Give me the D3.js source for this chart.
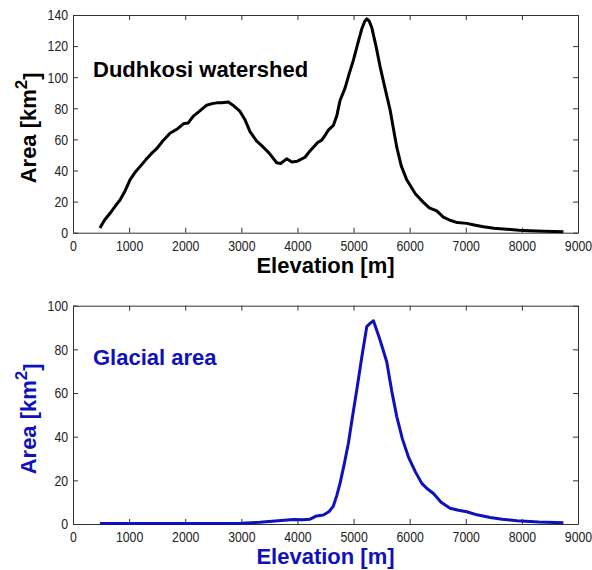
<!DOCTYPE html>
<html>
<head>
<meta charset="utf-8">
<script src="https://cdn.jsdelivr.net/npm/d3@7"></script>
<style>
  body { margin: 0; background: #fff; }
  svg { display: block; font-family: Arial, "Liberation Sans", sans-serif; }
  .tick text { font-size: 15px; fill: #222; }
  .tick line { stroke: #333; }
  .domain { stroke: #333; }
</style>
</head>
<body>
<svg id="chart" width="592" height="570"></svg>
<script>
// Whole watershed hypsometry (elevation m, area km2)
var watershedElev = [480, 560, 660, 750, 838, 930, 1016, 1100, 1194, 1300, 1400, 1491, 1600, 1729, 1850, 1967, 2050, 2145, 2250, 2383, 2480, 2561, 2650, 2769, 2850, 2977, 3060, 3155, 3270, 3392, 3500, 3630, 3700, 3808, 3900, 4000, 4135, 4210, 4284, 4360, 4433, 4500, 4551, 4640, 4700, 4759, 4848, 4920, 4997, 5070, 5146, 5200, 5235, 5280, 5324, 5400, 5472, 5560, 5651, 5710, 5770, 5850, 5948, 6100, 6245, 6350, 6483, 6600, 6720, 6850, 7018, 7150, 7315, 7500, 7731, 7950, 8146, 8400, 8740];
var watershedArea = [3, 8, 12.5, 17, 21, 27, 34, 38.5, 42.5, 47, 51, 54, 59, 64, 66.5, 70, 70.5, 75, 78, 82, 83, 83.5, 83.5, 84, 82, 78, 73, 65, 59, 55, 51, 45, 44.5, 47.5, 45.5, 46, 48.5, 52, 55, 58, 59.5, 63, 66, 69, 75, 85, 93, 102, 111, 121, 131, 136, 137.5, 136, 132, 120, 107, 93, 79, 67, 55, 43, 34, 25, 19.5, 16, 14, 10, 8, 6.5, 6, 5, 3.8, 2.8, 2.2, 1.6, 1.3, 0.9, 0.6];

// Glacier-covered area
var glacierElev = [480, 1000, 1500, 2000, 2500, 3000, 3333, 3600, 3927, 4100, 4224, 4343, 4462, 4560, 4640, 4700, 4759, 4830, 4908, 4980, 5057, 5150, 5235, 5300, 5354, 5410, 5472, 5591, 5680, 5770, 5870, 5977, 6100, 6216, 6320, 6424, 6560, 6720, 6870, 7018, 7200, 7434, 7650, 7909, 8300, 8740];
var glacierArea = [0.2, 0.2, 0.2, 0.2, 0.2, 0.3, 0.8, 1.4, 2.1, 1.9, 2.2, 3.7, 4.1, 5.6, 8.2, 13, 18.6, 27, 37, 49, 61.4, 77, 90.4, 92, 93.1, 89, 84.3, 74.3, 61, 49.2, 39, 30.8, 24, 18.6, 16, 14, 10, 7.2, 6.3, 5.6, 4.2, 3, 2.2, 1.5, 0.9, 0.6];

var xTicks = [0, 1000, 2000, 3000, 4000, 5000, 6000, 7000, 8000, 9000];
var topYTicks = [0, 20, 40, 60, 80, 100, 120, 140];
var bottomYTicks = [0, 20, 40, 60, 80, 100];

var svg = d3.select("#chart");
var left = 73, right = 578;

function drawPanel(opts) {
    var x = d3.scaleLinear().domain([0, 9000]).range([left, right]);
    var y = d3.scaleLinear().domain([0, opts.yMax]).range([opts.bottom, opts.top]);
    var g = svg.append("g");

    // bottom and left axes with labels, ticks pointing inward
    g.append("g")
        .attr("transform", "translate(0," + opts.bottom + ")")
        .call(d3.axisBottom(x).tickValues(xTicks).tickFormat(d3.format("d")).tickSizeInner(-5).tickSizeOuter(0).tickPadding(4))
        .call(a => a.selectAll(".tick text").attr("dy", "0.95em").attr("transform", "scale(0.82,1)"));
    g.append("g")
        .attr("transform", "translate(" + left + ",0)")
        .call(d3.axisLeft(y).tickValues(opts.yTicks).tickSizeInner(-5).tickSizeOuter(0).tickPadding(6))
        .call(a => a.selectAll(".tick text").attr("transform", "scale(0.82,1)"));
    // top and right box edges with ticks, no labels
    g.append("g")
        .attr("transform", "translate(0," + opts.top + ")")
        .call(d3.axisTop(x).tickValues(xTicks).tickSizeInner(-5).tickSizeOuter(0).tickFormat(""));
    g.append("g")
        .attr("transform", "translate(" + right + ",0)")
        .call(d3.axisRight(y).tickValues(opts.yTicks).tickSizeInner(-5).tickSizeOuter(0).tickFormat(""));

    var pts = opts.elev.map((e, i) => [e, opts.area[i]]);
    var line = d3.line().x(d => x(d[0])).y(d => y(d[1]));
    g.append("path")
        .datum(pts)
        .attr("d", line)
        .style("fill", "none")
        .style("stroke", opts.color)
        .style("stroke-width", 3)
        .style("stroke-linejoin", "round");

    // in-plot title
    g.append("text")
        .attr("x", 93)
        .attr("y", opts.titleY)
        .style("font-size", "22px")
        .style("font-weight", "bold")
        .style("fill", opts.color)
        .text(opts.title);

    // axis labels
    g.append("text")
        .attr("x", (left + right) / 2)
        .attr("y", opts.bottom + 40)
        .attr("text-anchor", "middle")
        .style("font-size", "22px")
        .style("font-weight", "bold")
        .style("fill", opts.color)
        .text("Elevation [m]");

    var yl = g.append("text")
        .attr("transform", "translate(36," + ((opts.top + opts.bottom) / 2 + 4) + ") rotate(-90)")
        .attr("text-anchor", "middle")
        .style("font-size", "22px")
        .style("font-weight", "bold")
        .style("fill", opts.color);
    yl.append("tspan").text("Area [km");
    yl.append("tspan").attr("dy", "-0.55em").style("font-size", "17px").text("2");
    yl.append("tspan").attr("dy", "0.55em").text("]");
}

drawPanel({
    top: 15, bottom: 232.7, yMax: 140, yTicks: topYTicks,
    elev: watershedElev, area: watershedArea,
    color: "#000", title: "Dudhkosi watershed", titleY: 76.5
});

drawPanel({
    top: 305.7, bottom: 524, yMax: 100, yTicks: bottomYTicks,
    elev: glacierElev, area: glacierArea,
    color: "#1010bc", title: "Glacial area", titleY: 365
});
</script>
</body>
</html>
